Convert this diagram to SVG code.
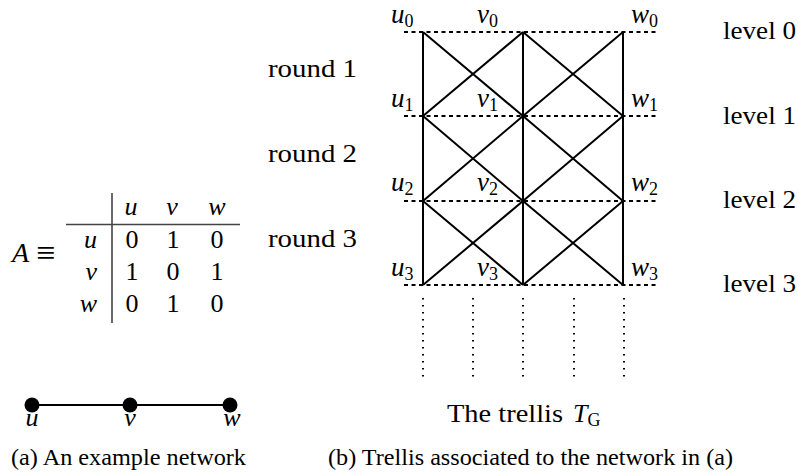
<svg xmlns="http://www.w3.org/2000/svg" width="798" height="473" viewBox="0 0 798 473">
<style>
text{font-family:"Liberation Serif","Times New Roman",serif;fill:#000}
.m{font-style:italic}
.lab{font-size:27px}
.sub{font-size:18px;font-style:normal}
.big{font-size:26px}
.cap{font-size:24px}
.mx{font-size:26px}
.solid{stroke:#000;stroke-width:2;fill:none}
.dash{stroke:#000;stroke-width:2;stroke-dasharray:4 3.5;fill:none}
.dot{stroke:#000;stroke-width:2;stroke-dasharray:1.6 5.4;fill:none}
.rule{stroke:#444;stroke-width:1.6;fill:none}
</style>
<rect width="798" height="473" fill="#fff"/>

<!-- adjacency matrix -->
<g id="matrix">
  <text class="m" x="12" y="262" font-size="28">A</text>
  <text x="36" y="264" font-size="34">≡</text>
  <line class="rule" x1="112" y1="193" x2="112" y2="323"/>
  <line class="rule" x1="66" y1="224.5" x2="240" y2="224.5"/>
  <g text-anchor="middle" class="mx m">
    <text x="131" y="215">u</text>
    <text x="172" y="215">v</text>
    <text x="217" y="215">w</text>
  </g>
  <g text-anchor="end" class="mx m">
    <text x="97" y="248">u</text>
    <text x="97" y="280">v</text>
    <text x="97" y="312">w</text>
  </g>
  <g text-anchor="middle" class="mx">
    <text x="132" y="248">0</text><text x="173" y="248">1</text><text x="217" y="248">0</text>
    <text x="132" y="280">1</text><text x="173" y="280">0</text><text x="217" y="280">1</text>
    <text x="132" y="312">0</text><text x="173" y="312">1</text><text x="217" y="312">0</text>
  </g>
</g>

<!-- example network -->
<g id="net-edges">
  <line class="solid" x1="32" y1="405" x2="230" y2="405"/>
</g>
<g id="net-u"><circle cx="32" cy="405" r="7.5"/><text class="mx m" x="32" y="426" text-anchor="middle">u</text></g>
<g id="net-v"><circle cx="130" cy="405" r="7.5"/><text class="mx m" x="130" y="426" text-anchor="middle">v</text></g>
<g id="net-w"><circle cx="230" cy="405" r="7.5"/><text class="mx m" x="232" y="426" text-anchor="middle">w</text></g>

<text class="cap" x="11" y="465" textLength="235" lengthAdjust="spacingAndGlyphs">(a) An example network</text>

<!-- trellis connectors -->
<g id="connectors">
  <g class="dash">
    <line x1="404" y1="32" x2="658" y2="32"/>
    <line x1="404" y1="116" x2="658" y2="116"/>
    <line x1="404" y1="201" x2="658" y2="201"/>
    <line x1="404" y1="285" x2="658" y2="285"/>
  </g>
  <g class="solid">
    <line x1="423" y1="32" x2="423" y2="285"/>
    <line x1="523" y1="32" x2="523" y2="285"/>
    <line x1="623" y1="32" x2="623" y2="285"/>
    <path d="M423 32L523 116M523 32L423 116M523 32L623 116M623 32L523 116"/>
    <path d="M423 116L523 201M523 116L423 201M523 116L623 201M623 116L523 201"/>
    <path d="M423 201L523 285M523 201L423 285M523 201L623 285M623 201L523 285"/>
  </g>
  <g class="dot">
    <line x1="423" y1="298" x2="423" y2="381"/>
    <line x1="473" y1="298" x2="473" y2="381"/>
    <line x1="523" y1="298" x2="523" y2="381"/>
    <line x1="574" y1="298" x2="574" y2="381"/>
    <line x1="624" y1="298" x2="624" y2="381"/>
  </g>
</g>

<!-- trellis node labels -->
<g id="u0"><text class="lab m" x="391" y="23">u<tspan class="sub" dy="4">0</tspan></text></g>
<g id="v0"><text class="lab m" x="477" y="23">v<tspan class="sub" dy="4">0</tspan></text></g>
<g id="w0"><text class="lab m" x="631" y="23">w<tspan class="sub" dy="4">0</tspan></text></g>
<g id="u1"><text class="lab m" x="391" y="107">u<tspan class="sub" dy="4">1</tspan></text></g>
<g id="v1"><text class="lab m" x="477" y="107">v<tspan class="sub" dy="4">1</tspan></text></g>
<g id="w1"><text class="lab m" x="631" y="107">w<tspan class="sub" dy="4">1</tspan></text></g>
<g id="u2"><text class="lab m" x="391" y="191">u<tspan class="sub" dy="4">2</tspan></text></g>
<g id="v2"><text class="lab m" x="477" y="191">v<tspan class="sub" dy="4">2</tspan></text></g>
<g id="w2"><text class="lab m" x="631" y="191">w<tspan class="sub" dy="4">2</tspan></text></g>
<g id="u3"><text class="lab m" x="391" y="276">u<tspan class="sub" dy="4">3</tspan></text></g>
<g id="v3"><text class="lab m" x="477" y="276">v<tspan class="sub" dy="4">3</tspan></text></g>
<g id="w3"><text class="lab m" x="631" y="276">w<tspan class="sub" dy="4">3</tspan></text></g>

<!-- round / level labels -->
<g class="big">
  <text x="268" y="77" textLength="89" lengthAdjust="spacingAndGlyphs">round 1</text>
  <text x="268" y="162" textLength="89" lengthAdjust="spacingAndGlyphs">round 2</text>
  <text x="268" y="247" textLength="89" lengthAdjust="spacingAndGlyphs">round 3</text>
  <text x="723" y="39" textLength="73" lengthAdjust="spacingAndGlyphs">level 0</text>
  <text x="723" y="124" textLength="73" lengthAdjust="spacingAndGlyphs">level 1</text>
  <text x="723" y="208" textLength="73" lengthAdjust="spacingAndGlyphs">level 2</text>
  <text x="723" y="292" textLength="73" lengthAdjust="spacingAndGlyphs">level 3</text>
</g>

<text class="big" x="447" y="422"><tspan textLength="116" lengthAdjust="spacingAndGlyphs">The trellis</tspan><tspan class="m" x="573">T</tspan><tspan class="sub m" dy="4" font-size="17">G</tspan></text>

<text class="cap" x="328" y="465" textLength="405" lengthAdjust="spacingAndGlyphs">(b) Trellis associated to the network in (a)</text>
</svg>
